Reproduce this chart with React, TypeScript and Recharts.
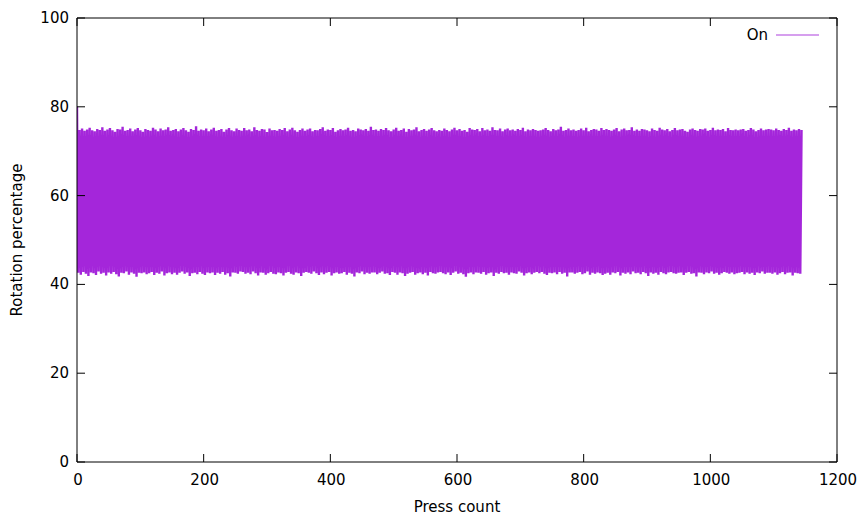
import { LineChart, Line, XAxis, YAxis, Legend } from "recharts";

// press count axis
const xTicks = [0, 200, 400, 600, 800, 1000, 1200];
const yTicks = [0, 20, 40, 60, 80, 100];

const firstReading = 80;
const pressStep = 2;

// upper turning points of each press cycle (rotation %)
const rotationPeaks = [
  74.8, 75.1, 74.6, 74.9, 75.3, 74.7, 74.5, 75.0, 74.8, 75.4, 74.6, 74.9, 75.2,
  74.7, 74.4, 75.0, 74.9, 75.5, 74.6, 74.8, 75.1, 74.5, 74.9, 75.2, 74.7, 74.4,
  75.0, 74.8, 74.6, 75.3, 74.9, 74.5, 75.1, 74.7, 74.9, 75.4, 74.6, 74.8, 75.0,
  74.5, 74.9, 75.2, 74.7, 74.4, 75.0, 74.8, 75.6, 74.6, 74.9, 74.7, 75.1, 74.5,
  74.9, 75.3, 74.6, 74.8, 75.0, 74.4, 74.9, 75.2, 74.7, 74.5, 75.1, 74.8, 74.6,
  75.2, 74.7, 74.9, 74.5, 75.4, 74.8, 74.6, 75.0, 74.9, 74.3, 75.1, 74.7, 74.8,
  74.6, 75.0, 74.8, 75.2, 74.5, 74.9, 75.3, 74.7, 74.4, 74.8, 75.1, 74.6, 74.9,
  75.1, 74.5, 74.8, 74.7, 75.0, 75.4, 74.6, 74.9, 74.8, 75.2, 74.4, 74.7, 75.0,
  74.7, 74.9, 75.3, 74.6, 74.8, 74.5, 75.1, 74.9, 74.7, 75.0, 74.6, 75.5, 74.8,
  74.9, 74.6, 75.0, 74.8, 75.2, 74.7, 74.5, 74.9, 75.3, 74.6, 74.8, 75.1, 74.4,
  75.0, 74.7, 74.9, 75.4, 74.5, 74.8, 75.0, 74.6, 74.9, 75.2, 74.7, 74.5, 74.8,
  74.6, 75.1, 74.8, 74.5, 74.9, 75.3, 74.7, 75.0, 74.6, 74.8, 74.4, 75.2, 74.9,
  74.8, 75.0, 74.5, 75.2, 74.7, 74.9, 74.6, 75.4, 74.8, 74.7, 75.1, 74.5, 74.9,
  75.1, 74.7, 74.9, 74.6, 75.0, 74.8, 75.3, 74.5, 74.9, 74.7, 75.0, 74.8, 74.6,
  74.7, 74.9, 75.2, 74.8, 74.5, 75.0, 74.7, 74.9, 75.5, 74.6, 74.8, 75.1, 74.7,
  74.9, 74.6, 74.8, 75.1, 74.7, 75.3, 74.5, 74.8, 75.0, 74.9, 74.6, 75.2, 74.8,
  75.0, 74.8, 74.6, 74.9, 75.2, 74.5, 74.9, 75.1, 74.7, 74.8, 75.4, 74.6, 74.9,
  74.6, 75.0, 74.9, 74.7, 74.5, 75.1, 74.8, 74.6, 75.3, 74.9, 74.7, 75.0, 74.5,
  74.8, 75.2, 74.7, 74.9, 75.0, 74.6, 74.4, 74.9, 75.1, 74.8, 74.6, 75.0, 74.9,
  75.1, 74.6, 74.8, 75.3, 74.7, 74.9, 74.8, 75.0, 74.5, 75.2, 74.8, 74.7, 74.9,
  74.7, 74.9, 75.0, 74.6, 74.8, 75.2, 74.9, 74.5, 74.8, 75.1, 74.7, 74.9, 75.0,
  74.9, 74.7, 75.1, 74.8, 74.6, 75.0, 74.8, 75.3, 74.6, 74.9, 74.7, 75.0, 74.8,
];

// lower turning points of each press cycle (rotation %)
const rotationTroughs = [
  42.6, 42.2, 42.8, 42.4, 41.9, 42.7, 42.5, 42.1, 42.9, 42.4, 42.6, 42.0, 42.7,
  42.4, 42.8, 42.3, 41.8, 42.6, 42.5, 42.9, 42.2, 42.7, 42.4, 41.7, 42.6, 42.5,
  42.7, 42.3, 42.5, 42.8, 42.1, 42.6, 42.4, 42.9, 42.0, 42.5, 42.7, 42.3, 42.6,
  42.2, 42.6, 42.9, 42.4, 42.7, 41.9, 42.5, 42.6, 42.3, 42.8, 42.4, 42.1, 42.7,
  42.5, 42.7, 42.1, 42.6, 42.4, 42.8, 42.2, 42.5, 41.8, 42.7, 42.6, 42.4, 42.9,
  42.8, 42.4, 42.6, 42.3, 42.9, 42.5, 42.0, 42.7, 42.6, 42.2, 42.5, 42.8, 42.4,
  42.3, 42.7, 42.5, 42.0, 42.6, 42.8, 42.4, 42.2, 42.7, 42.5, 41.9, 42.6, 42.8,
  42.6, 42.4, 42.9, 42.5, 42.1, 42.7, 42.3, 42.6, 42.8, 42.0, 42.5, 42.7, 42.4,
  42.5, 42.8, 42.2, 42.6, 42.4, 41.8, 42.7, 42.5, 42.9, 42.3, 42.6, 42.4, 42.7,
  42.7, 42.3, 42.6, 42.9, 42.4, 42.5, 42.1, 42.8, 42.6, 42.2, 42.7, 42.5, 41.9,
  42.4, 42.6, 42.8, 42.2, 42.5, 42.7, 42.3, 42.6, 42.0, 42.8, 42.5, 42.4, 42.7,
  42.8, 42.5, 42.3, 42.7, 42.1, 42.6, 42.9, 42.4, 42.6, 42.3, 41.7, 42.5, 42.7,
  42.3, 42.7, 42.6, 42.4, 42.8, 42.2, 42.5, 42.7, 41.9, 42.6, 42.4, 42.8, 42.5,
  42.6, 42.2, 42.7, 42.5, 42.4, 42.9, 42.6, 42.0, 42.5, 42.7, 42.3, 42.6, 42.8,
  42.5, 42.8, 42.4, 42.1, 42.6, 42.5, 42.7, 42.3, 42.8, 42.4, 42.6, 41.8, 42.7,
  42.7, 42.4, 42.6, 42.8, 42.3, 42.5, 42.9, 42.2, 42.6, 42.4, 42.7, 42.5, 42.1,
  42.4, 42.6, 42.2, 42.7, 42.5, 42.8, 42.0, 42.6, 42.4, 42.7, 42.3, 42.9, 42.5,
  42.6, 42.3, 42.8, 42.5, 41.9, 42.7, 42.4, 42.6, 42.2, 42.8, 42.5, 42.3, 42.7,
  42.8, 42.5, 42.4, 42.6, 42.7, 42.1, 42.6, 42.8, 42.4, 42.5, 41.8, 42.7, 42.6,
  42.3, 42.7, 42.5, 42.9, 42.4, 42.6, 42.2, 42.5, 42.8, 42.6, 42.4, 42.7, 42.3,
  42.5, 42.6, 42.8, 42.3, 42.7, 42.4, 42.6, 42.1, 42.7, 42.5, 42.9, 42.4, 42.6,
  42.6, 42.4, 42.7, 42.2, 42.5, 42.8, 42.3, 42.6, 42.7, 42.0, 42.6, 42.5, 42.4,
];

const data: { press: number; rotation: number }[] = [{ press: 0, rotation: firstReading }];
rotationTroughs.forEach((low, i) => {
  data.push({ press: (2 * i + 1) * pressStep, rotation: low });
  data.push({ press: (2 * i + 2) * pressStep, rotation: rotationPeaks[i] });
});

const FONT = "'DejaVu Sans', sans-serif";
const TICK_LEN = 8;

const BottomTick = ({ x, y, payload }: any) => (
  <g>
    <line x1={x} y1={y} x2={x} y2={y - TICK_LEN} stroke="#000" />
    <text x={x + 1} y={y + 23} textAnchor="middle" fontSize={15} fill="#000" fontFamily={FONT}>
      {payload.value}
    </text>
  </g>
);

const TopTick = ({ x, y }: any) => (
  <line x1={x} y1={y} x2={x} y2={y + TICK_LEN} stroke="#000" />
);

const LeftTick = ({ x, y, payload }: any) => (
  <g>
    <line x1={x} y1={y} x2={x + TICK_LEN} y2={y} stroke="#000" />
    <text x={x - 8} y={y + 5} textAnchor="end" fontSize={15} fill="#000" fontFamily={FONT}>
      {payload.value}
    </text>
  </g>
);

const RightTick = ({ x, y }: any) => (
  <line x1={x} y1={y} x2={x - TICK_LEN} y2={y} stroke="#000" />
);

const LegendBox = () => (
  <svg width={90} height={20}>
    <text x={37} y={15} textAnchor="end" fontSize={15} fill="#000" fontFamily={FONT}>
      On
    </text>
    <line x1={45} y1={10} x2={88} y2={10} stroke="#9400d3" strokeOpacity={0.5} strokeWidth={1.5} />
  </svg>
);

export default function App() {
  return (
    <div style={{ position: "absolute", left: 0, top: 0, background: "#fff", fontFamily: FONT }}>
      <LineChart width={864} height={519} data={data} margin={{ top: 0, right: 0, bottom: 0, left: 0 }}>
        <XAxis
          xAxisId="bottom"
          dataKey="press"
          type="number"
          domain={[0, 1200]}
          ticks={xTicks}
          allowDataOverflow
          height={57}
          tickSize={0}
          tickMargin={0}
          tickLine={false}
          tick={<BottomTick />}
          axisLine={{ stroke: "#000" }}
          label={({ viewBox }: any) => (
            <text
              x={viewBox.x + viewBox.width / 2}
              y={viewBox.y + 50}
              textAnchor="middle"
              fontSize={15}
              fill="#000"
              fontFamily={FONT}
            >
              Press count
            </text>
          )}
        />
        <XAxis
          xAxisId="top"
          orientation="top"
          dataKey="press"
          type="number"
          domain={[0, 1200]}
          ticks={xTicks}
          allowDataOverflow
          height={18}
          tickSize={0}
          tickMargin={0}
          tickLine={false}
          tick={<TopTick />}
          axisLine={{ stroke: "#000" }}
        />
        <YAxis
          yAxisId="left"
          type="number"
          domain={[0, 100]}
          ticks={yTicks}
          allowDataOverflow
          width={77}
          tickSize={0}
          tickMargin={0}
          tickLine={false}
          tick={<LeftTick />}
          axisLine={{ stroke: "#000" }}
          label={({ viewBox }: any) => {
            const cx = viewBox.x + 22;
            const cy = viewBox.y + viewBox.height / 2;
            return (
              <text
                x={cx}
                y={cy}
                transform={`rotate(-90 ${cx} ${cy})`}
                textAnchor="middle"
                fontSize={15}
                fill="#000"
                fontFamily={FONT}
              >
                Rotation percentage
              </text>
            );
          }}
        />
        <YAxis
          yAxisId="right"
          orientation="right"
          type="number"
          domain={[0, 100]}
          ticks={yTicks}
          allowDataOverflow
          width={27}
          tickSize={0}
          tickMargin={0}
          tickLine={false}
          tick={<RightTick />}
          axisLine={{ stroke: "#000" }}
        />
        <Legend
          layout="horizontal"
          verticalAlign="middle"
          content={<LegendBox />}
          wrapperStyle={{ top: 25, left: 731, width: 90, height: 20 }}
        />
        <Line
          xAxisId="bottom"
          yAxisId="left"
          type="linear"
          dataKey="rotation"
          name="On"
          stroke="#9400d3"
          strokeOpacity={0.85}
          strokeWidth={2.4}
          dot={false}
          activeDot={false}
          isAnimationActive={false}
        />
      </LineChart>
    </div>
  );
}
